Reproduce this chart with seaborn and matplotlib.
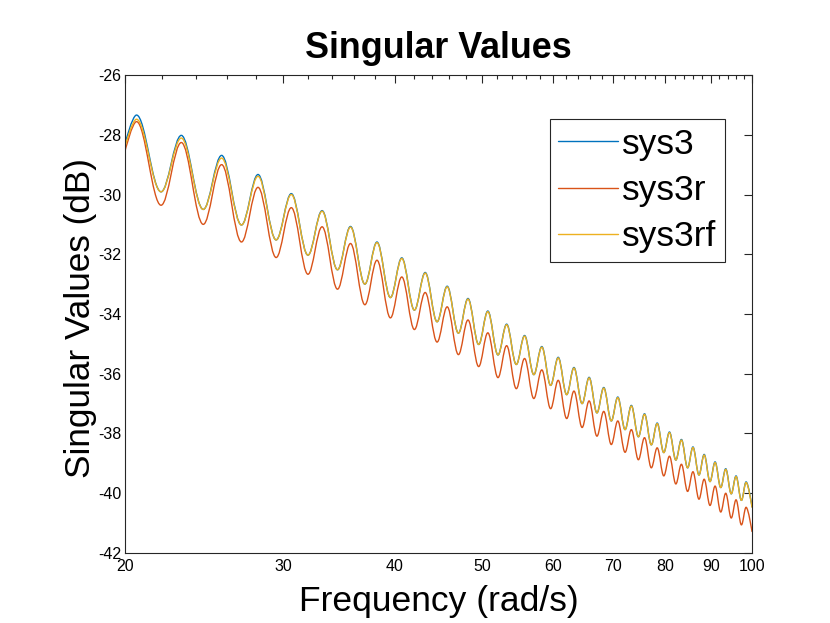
import numpy as np
import pandas as pd
import matplotlib
matplotlib.use("Agg")
import matplotlib.pyplot as plt
import seaborn as sns
from matplotlib.ticker import FixedLocator, NullFormatter
from matplotlib.path import Path
from matplotlib.patches import PathPatch
from matplotlib.lines import Line2D

# -------------------------------------------------
# Values
# -------------------------------------------------

# frequencies (rad/s) of the ripple peaks / troughs
peak_freq = [20.60, 23.11, 25.63, 28.14, 30.65, 33.17, 35.68, 38.19, 40.70, 43.22,
             45.73, 48.24, 50.76, 53.27, 55.78, 58.30, 60.81, 63.32, 65.83, 68.35,
             70.86, 73.37, 75.89, 78.40, 80.91, 83.43, 85.94, 88.45, 90.96, 93.48,
             95.99, 98.50]
trough_freq = [21.94, 24.45, 26.97, 29.48, 31.99, 34.51, 37.02, 39.53, 42.04, 44.56,
               47.07, 49.58, 52.10, 54.61, 57.12, 59.64, 62.15, 64.66, 67.17, 69.69,
               72.20, 74.71, 77.23, 79.74, 82.25, 84.77, 87.28, 89.79, 92.30, 94.82,
               97.33]
freq_range = [20, 100]

# singular values (dB)
sys3_ends = [-28.30, -40.45]
sys3_peaks = [-27.34, -28.02, -28.69, -29.33, -29.97, -30.54, -31.07, -31.59, -32.12, -32.61,
              -33.07, -33.48, -33.90, -34.34, -34.72, -35.09, -35.45, -35.79, -36.12, -36.46,
              -36.78, -37.06, -37.34, -37.65, -37.95, -38.20, -38.45, -38.70, -38.95, -39.18,
              -39.42, -39.62]
sys3_troughs = [-29.91, -30.50, -31.02, -31.52, -32.03, -32.52, -33.00, -33.45, -33.87, -34.26,
                -34.64, -35.02, -35.37, -35.69, -36.03, -36.39, -36.70, -37.00, -37.31, -37.58,
                -37.87, -38.11, -38.38, -38.64, -38.89, -39.15, -39.39, -39.61, -39.81, -40.02,
                -40.24]

sys3r_ends = [-28.55, -41.28]
sys3r_peaks = [-27.56, -28.26, -29.00, -29.76, -30.44, -31.08, -31.64, -32.20, -32.76, -33.28,
               -33.76, -34.20, -34.63, -35.06, -35.49, -35.87, -36.22, -36.58, -36.91, -37.26,
               -37.58, -37.87, -38.14, -38.48, -38.76, -39.03, -39.28, -39.53, -39.76, -40.00,
               -40.22, -40.47]
sys3r_troughs = [-30.36, -31.00, -31.59, -32.11, -32.67, -33.17, -33.69, -34.13, -34.52, -34.94,
                 -35.36, -35.76, -36.13, -36.50, -36.83, -37.17, -37.50, -37.80, -38.09, -38.37,
                 -38.63, -38.88, -39.15, -39.42, -39.69, -39.94, -40.20, -40.41, -40.63, -40.83,
                 -41.06]

sys3rf_ends = [-28.40, -40.47]
sys3rf_peaks = [-27.48, -28.11, -28.78, -29.39, -30.00, -30.56, -31.09, -31.61, -32.14, -32.63,
                -33.09, -33.50, -33.92, -34.36, -34.74, -35.11, -35.47, -35.81, -36.14, -36.48,
                -36.80, -37.08, -37.36, -37.67, -37.97, -38.22, -38.47, -38.72, -38.97, -39.20,
                -39.44, -39.64]
sys3rf_troughs = sys3_troughs  # sys3 and sys3rf coincide at the troughs

systems = ["sys3", "sys3r", "sys3rf"]
colors = ["#0072BD", "#D95319", "#EDB120"]

x_ticks = [20, 30, 40, 50, 60, 70, 80, 90, 100]
x_minor = list(range(20, 101, 2))
y_ticks = [-42, -40, -38, -36, -34, -32, -30, -28, -26]


def series(name, ends, peaks, troughs):
    f = [freq_range[0]] + peak_freq + trough_freq + [freq_range[1]]
    v = [ends[0]] + peaks + troughs + [ends[1]]
    return pd.DataFrame({"Frequency": f, "SV": v, "system": name})


df = pd.concat([
    series("sys3", sys3_ends, sys3_peaks, sys3_troughs),
    series("sys3r", sys3r_ends, sys3r_peaks, sys3r_troughs),
    series("sys3rf", sys3rf_ends, sys3rf_peaks, sys3rf_troughs),
], ignore_index=True)


def smooth_line(ax, line, k=0.364):
    # redraw a line as cubic Bezier segments with flat tangents at the
    # ripple peaks / troughs (only changes how the line is stroked)
    xy = line.get_xydata()
    lx = np.log10(xy[:, 0])
    n = len(xy)
    verts = [tuple(xy[0])]
    codes = [Path.MOVETO]
    for i in range(n - 1):
        dx = lx[i + 1] - lx[i]
        c1 = (10 ** (lx[i] + k * dx), xy[i, 1]) if i > 0 else tuple(xy[i])
        c2 = (10 ** (lx[i + 1] - k * dx), xy[i + 1, 1]) if i < n - 2 else tuple(xy[i + 1])
        verts += [c1, c2, tuple(xy[i + 1])]
        codes += [Path.CURVE4] * 3
    patch = PathPatch(Path(verts, codes), fill=False, edgecolor=line.get_color(),
                      linewidth=line.get_linewidth(), zorder=line.get_zorder(),
                      joinstyle="round", capstyle="round")
    ax.add_patch(patch)
    line.remove()


# -------------------------------------------------
# Plot
# -------------------------------------------------

sns.set_style("white")
plt.rcParams["font.family"] = ["Liberation Sans", "DejaVu Sans"]
plt.rcParams["axes.unicode_minus"] = False
plt.rcParams["text.color"] = "black"
plt.rcParams["axes.labelcolor"] = "black"

fig = plt.figure(figsize=(8.3, 6.23), dpi=100)
ax = fig.add_axes([0.1506, 0.1124, 0.7554, 0.7672])

sns.lineplot(data=df, x="Frequency", y="SV", hue="system", hue_order=systems,
             palette=colors, estimator=None, sort=True, linewidth=1.0,
             legend=False, ax=ax)

for ln in list(ax.lines):
    smooth_line(ax, ln)

ax.set_xscale("log")
ax.set_xlim(20, 100)
ax.set_ylim(-42, -26)

ax.xaxis.set_major_locator(FixedLocator(x_ticks))
ax.xaxis.set_minor_locator(FixedLocator(x_minor))
ax.xaxis.set_minor_formatter(NullFormatter())
ax.set_xticklabels([str(t) for t in x_ticks])
ax.set_yticks(y_ticks)
ax.set_yticklabels([str(t) for t in y_ticks])

axis_col = "#262626"
for s in ax.spines.values():
    s.set_visible(True)
    s.set_color(axis_col)
    s.set_linewidth(0.8)
ax.tick_params(which="both", direction="in", top=True, right=True,
               color=axis_col, labelsize=11.5, labelcolor="black")
ax.tick_params(which="major", length=6, width=0.8)
ax.tick_params(which="minor", length=3, width=0.8)
ax.tick_params(axis="x", which="major", pad=4)
ax.tick_params(axis="y", which="major", pad=2.5)

ax.set_title("Singular Values", fontsize=25.8, fontweight="bold", pad=12, color="black")
ax.set_xlabel("Frequency (rad/s)", fontsize=25.5, color="black")
ax.set_ylabel("Singular Values (dB)", fontsize=25.3, color="black")
ax.xaxis.set_label_coords(0.5, -0.066)
ax.yaxis.set_label_coords(-0.044, 0.492)

handles = [Line2D([], [], color=c, linewidth=1.0) for c in colors]
leg = ax.legend(handles, systems, loc="upper right",
                bbox_to_anchor=(0.957, 0.908), fontsize=25.5, frameon=True,
                fancybox=False, edgecolor=axis_col, framealpha=1,
                borderpad=0.25, borderaxespad=0, handlelength=1.67,
                handletextpad=0.12, labelspacing=0.37)
leg.get_frame().set_linewidth(0.8)
for t in leg.get_texts():
    t.set_color("black")

fig.savefig("out.png", dpi=100)
